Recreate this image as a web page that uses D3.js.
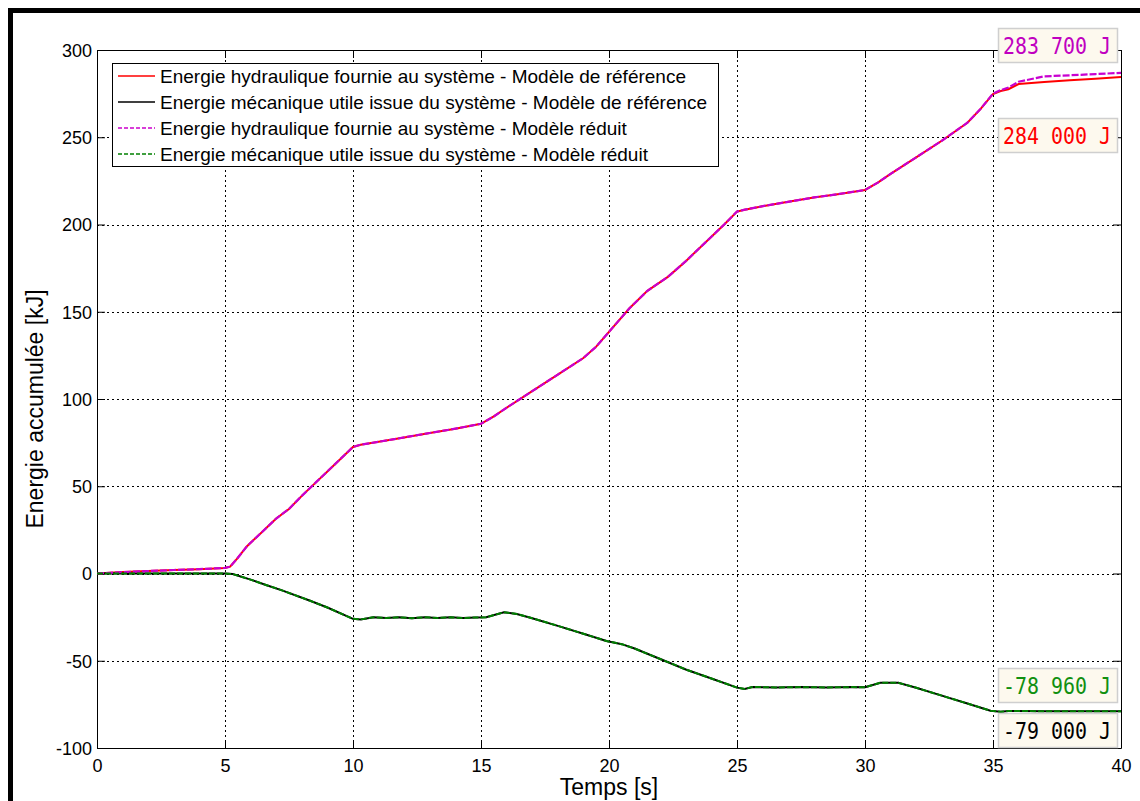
<!DOCTYPE html>
<html><head><meta charset="utf-8">
<script src="https://cdn.jsdelivr.net/npm/d3@7"></script>
<style>
html,body{margin:0;padding:0;background:#fff;}
svg{display:block;}
</style></head>
<body>
<svg id="chart" width="1140" height="801"></svg>
<script>
// ---- data ----
const tHyd = [0, 1, 2, 3, 4, 5, 5.2, 5.5, 5.85, 6.5, 7, 7.5, 8, 8.5, 9, 9.5, 10.0, 10.3, 11, 12, 13, 14, 15, 15.5, 16, 17, 18, 19, 19.5, 20, 20.8, 21.5, 22.3, 23, 24, 24.5, 25, 25.3, 26, 27, 28, 29, 30, 30.5, 31, 32, 33, 34, 34.5, 35, 35.3, 35.6, 36, 37, 38, 39, 40];
const hydRef = [0, 0.8, 1.4, 2.0, 2.5, 3.2, 3.9, 9, 15.5, 24.5, 31.5, 37, 44.5, 51.5, 58.5, 65.5, 72.5, 73.8, 75.5, 78, 80.5, 83, 85.8, 90, 95, 104.5, 114, 123.5, 130, 138.5, 152, 162, 170, 179, 193, 200, 207.4, 208.5, 210.5, 213, 215.5, 217.5, 219.8, 224, 229, 238.5, 248, 258.3, 266, 274.8, 276.5, 277.5, 280.5, 281.7, 282.6, 283.5, 284.5];
const hydRed = [0, 0.8, 1.4, 2.0, 2.5, 3.2, 3.9, 9, 15.5, 24.5, 31.5, 37, 44.5, 51.5, 58.5, 65.5, 72.5, 73.8, 75.5, 78, 80.5, 83, 85.8, 90, 95, 104.5, 114, 123.5, 130, 138.5, 152, 162, 170, 179, 193, 200, 207.4, 208.5, 210.5, 213, 215.5, 217.5, 219.8, 224, 229, 238.5, 248, 258.3, 266, 275, 277, 278.5, 281.8, 284.9, 285.5, 286.2, 286.9];
const tMec = [0, 5, 5.3, 6, 6.6, 7.2, 8.3, 9, 10, 10.3, 10.8, 11.3, 11.8, 12.3, 12.8, 13.3, 13.8, 14.3, 14.8, 15.2, 15.9, 16.4, 17, 18, 19, 19.9, 20.5, 21, 22, 23, 24, 25, 25.3, 25.6, 26.5, 27.5, 28.5, 29.5, 30, 30.6, 31.3, 32, 33, 34, 34.9, 35.3, 35.6, 37, 40];
const mecRef = [0, 0, -0.3, -3.5, -6.6, -9.5, -15.5, -19.5, -26, -26.3, -25.1, -25.5, -25.1, -25.6, -25.1, -25.5, -25.1, -25.5, -25.2, -25.1, -22.2, -23.2, -25.6, -30, -34.5, -38.7, -40.5, -43, -49, -55, -60.2, -65.4, -66.2, -65.0, -65.3, -65.1, -65.3, -65.1, -65.2, -62.6, -62.6, -65.5, -70, -74.5, -78.6, -79.2, -78.8, -78.9, -79];
const mecRed = [0, 0, -0.3, -3.5, -6.6, -9.5, -15.5, -19.5, -26, -26.3, -25.1, -25.5, -25.1, -25.6, -25.1, -25.5, -25.1, -25.5, -25.2, -25.1, -22.2, -23.2, -25.6, -30, -34.5, -38.7, -40.5, -43, -49, -55, -60.2, -65.4, -66.2, -65.0, -65.3, -65.1, -65.3, -65.1, -65.2, -62.6, -62.6, -65.5, -70, -74.5, -78.6, -79.2, -78.8, -78.9, -78.96];
const xTicks = [0, 5, 10, 15, 20, 25, 30, 35, 40];
const yTicks = [-100, -50, 0, 50, 100, 150, 200, 250, 300];
const legendLabels = [
  "Energie hydraulique fournie au système - Modèle de référence",
  "Energie mécanique utile issue du système - Modèle de référence",
  "Energie hydraulique fournie au système - Modèle réduit",
  "Energie mécanique utile issue du système - Modèle réduit"
];
const annotTexts = ["283 700 J", "284 000 J", "-78 960 J", "-79 000 J"];
const annotValues = [283.7, 284.0, -78.96, -79.0];
const xLabel = "Temps [s]";
const yLabel = "Energie accumulée [kJ]";

// ---- drawing ----
const svg = d3.select("#chart");
const L = 97, R = 1121, T = 50, B = 748;
const x = d3.scaleLinear().domain([0, 40]).range([L, R]);
const y = d3.scaleLinear().domain([-100, 300]).range([B, T]);
const font = "'Liberation Sans', Arial, sans-serif";
const fmt = d => String(d);

// outer frame
svg.append("rect").attr("x", 10.5).attr("y", 10.5).attr("width", 1300).attr("height", 1000)
  .attr("fill", "none").attr("stroke", "#000").attr("stroke-width", 5);

// grid
const grid = svg.append("g").attr("stroke", "#000").attr("stroke-width", 1).attr("stroke-dasharray", "2,3");
xTicks.slice(1, -1).forEach(v => grid.append("line").attr("x1", Math.round(x(v)) + 0.5).attr("x2", Math.round(x(v)) + 0.5).attr("y1", T).attr("y2", B));
yTicks.slice(1, -1).forEach(v => grid.append("line").attr("y1", Math.round(y(v)) + 0.5).attr("y2", Math.round(y(v)) + 0.5).attr("x1", L).attr("x2", R));

// axes
const axB = svg.append("g").attr("transform", `translate(0,${B})`).call(d3.axisBottom(x).tickValues(xTicks).tickFormat(fmt).tickSizeInner(-8).tickSizeOuter(0).tickPadding(11));
const axL = svg.append("g").attr("transform", `translate(${L},0)`).call(d3.axisLeft(y).tickValues(yTicks).tickFormat(fmt).tickSizeInner(-8).tickSizeOuter(0).tickPadding(5));
const axT = svg.append("g").attr("transform", `translate(0,${T})`).call(d3.axisTop(x).tickValues(xTicks).tickSizeInner(-8).tickSizeOuter(0).tickFormat(""));
const axR = svg.append("g").attr("transform", `translate(${R},0)`).call(d3.axisRight(y).tickValues(yTicks).tickSizeInner(-8).tickSizeOuter(0).tickFormat(""));
[axB, axL, axT, axR].forEach(a => {
  a.selectAll("text").attr("font-family", font).attr("font-size", 18).attr("fill", "#000");
  a.selectAll("line,path").attr("stroke", "#000");
});
axL.selectAll("text").attr("dy", "0.35em");

// lines
const line = (ts) => d3.line().x((d, i) => x(ts[i])).y(d => y(d));
svg.append("path").datum(hydRef).attr("d", line(tHyd)).attr("fill", "none").attr("stroke", "#ff0000").attr("stroke-width", 2);
svg.append("path").datum(mecRef).attr("d", line(tMec)).attr("fill", "none").attr("stroke", "#000").attr("stroke-width", 2);
svg.append("path").datum(hydRed).attr("d", line(tHyd)).attr("fill", "none").attr("stroke", "#c800d0").attr("stroke-width", 2.2).attr("stroke-dasharray", "7,2");
svg.append("path").datum(mecRed).attr("d", line(tMec)).attr("fill", "none").attr("stroke", "#008000").attr("stroke-width", 2).attr("stroke-dasharray", "6,2");

// legend
const lg = svg.append("g");
lg.append("rect").attr("x", 112.5).attr("y", 63.5).attr("width", 606).attr("height", 103).attr("fill", "#fff").attr("stroke", "#000").attr("stroke-width", 1);
const legColors = ["#ff0000", "#000", "#cc00cc", "#008000"];
const legDash = [null, null, "4,2", "4,2"];
legendLabels.forEach((lab, i) => {
  const yy = 76 + i * 26;
  lg.append("line").attr("x1", 118).attr("x2", 155).attr("y1", yy).attr("y2", yy)
    .attr("stroke", legColors[i]).attr("stroke-width", 1.5).attr("stroke-dasharray", legDash[i]);
  lg.append("text").attr("x", 160).attr("y", yy).attr("dy", "0.35em").attr("font-family", font).attr("font-size", 19).text(lab);
});

// annotation boxes
const boxes = [
  {y0: 28, color: "#c000c0"},
  {y0: 118, color: "#ff0000"},
  {y0: 668, color: "#109010"},
  {y0: 713, color: "#000"}
];
annotTexts.forEach((t, i) => {
  const b = boxes[i];
  svg.append("rect").attr("x", 998.5).attr("y", b.y0 + 0.5).attr("width", 119).attr("height", 34)
    .attr("fill", "#fdf9ee").attr("stroke", "#cfcfcf").attr("stroke-width", 1.5);
  svg.append("text").attr("x", 1003).attr("y", b.y0 + 26)
    .attr("font-family", "'DejaVu Sans Mono', monospace").attr("font-size", 23).attr("fill", b.color)
    .attr("textLength", 108).attr("lengthAdjust", "spacingAndGlyphs")
    .attr("data-value", annotValues[i]).text(t);
});

// axis labels
svg.append("text").attr("x", (L + R) / 2).attr("y", 795).attr("text-anchor", "middle")
  .attr("font-family", font).attr("font-size", 23).text(xLabel);
svg.append("text").attr("transform", `translate(43,${(T + B) / 2 + 10}) rotate(-90)`).attr("text-anchor", "middle")
  .attr("font-family", font).attr("font-size", 23).text(yLabel);
</script>
</body></html>
